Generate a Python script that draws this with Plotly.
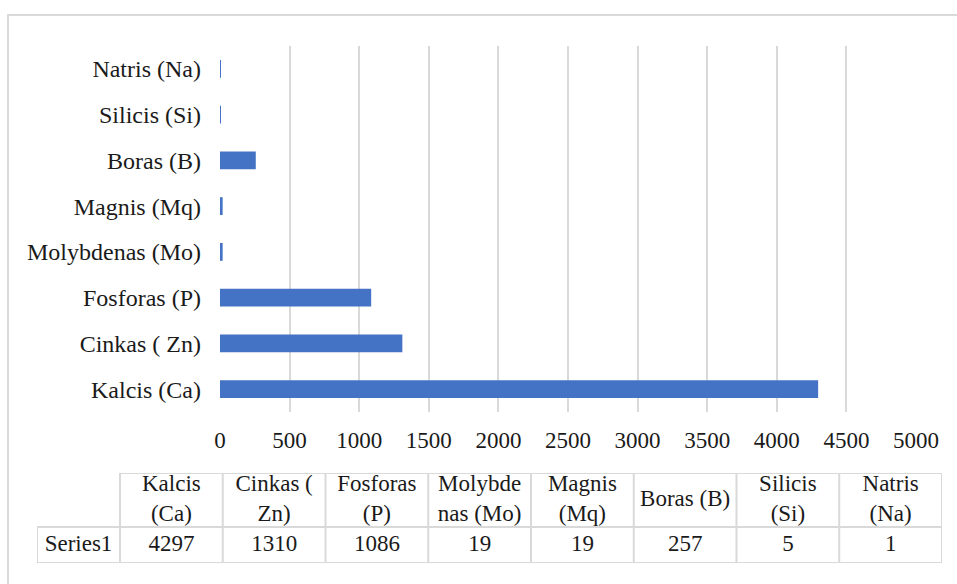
import plotly.graph_objects as go

# Element content (bottom to top on the bar chart, left to right in the table)
categories = ["Kalcis (Ca)", "Cinkas ( Zn)", "Fosforas (P)", "Molybdenas (Mo)",
              "Magnis (Mq)", "Boras (B)", "Silicis (Si)", "Natris (Na)"]
values = [4297, 1310, 1086, 19, 19, 257, 5, 1]
table_headers = ["Kalcis<br>(Ca)", "Cinkas (<br>Zn)", "Fosforas<br>(P)", "Molybde<br>nas (Mo)",
                 "Magnis<br>(Mq)", "Boras (B)", "Silicis<br>(Si)", "Natris<br>(Na)"]
series_name = "Series1"
x_ticks = [0, 500, 1000, 1500, 2000, 2500, 3000, 3500, 4000, 4500, 5000]

W, H = 957, 584
FONT = dict(family="Liberation Serif", size=23, color="#1a1a1a")
CAT_FONT = dict(family="Liberation Serif", size=24, color="#1a1a1a")
GRID = "#d9d9d9"
BAR = "#4472C4"


def px_x(p):
    return p / W


def px_y(p):
    return 1 - p / H


fig = go.Figure()

fig.add_trace(go.Bar(
    x=values, y=categories, orientation="h",
    marker=dict(color=BAR, line=dict(width=0)),
    width=0.39, hoverinfo="skip", showlegend=False,
))

# Data table under the chart: label column is narrower than the data columns
label_w = 83 / 102.75
header_h = 54 / 36
n = len(categories)

fig.add_trace(go.Scatter(
    x=[i + 0.5 for i in range(n)], y=[1 + header_h / 2] * n,
    text=table_headers, mode="text", textfont=FONT,
    xaxis="x2", yaxis="y2", hoverinfo="skip", showlegend=False,
))
fig.add_trace(go.Scatter(
    x=[i + 0.5 for i in range(n)], y=[0.5] * n,
    text=[str(v) for v in values], mode="text", textfont=FONT,
    xaxis="x2", yaxis="y2", hoverinfo="skip", showlegend=False,
))
fig.add_trace(go.Scatter(
    x=[-label_w / 2], y=[0.5], text=[series_name], mode="text", textfont=FONT,
    xaxis="x2", yaxis="y2", hoverinfo="skip", showlegend=False,
))

shapes = []
tline = dict(color=GRID, width=2)
for y in (0, 1):
    shapes.append(dict(type="line", xref="x2", yref="y2", x0=-label_w, x1=n, y0=y, y1=y, line=tline))
shapes.append(dict(type="line", xref="x2", yref="y2", x0=0, x1=n, y0=1 + header_h, y1=1 + header_h, line=tline))
shapes.append(dict(type="line", xref="x2", yref="y2", x0=-label_w, x1=-label_w, y0=0, y1=1, line=tline))
for i in range(n + 1):
    shapes.append(dict(type="line", xref="x2", yref="y2", x0=i, x1=i, y0=0, y1=1 + header_h, line=tline))

# Chart frame (runs off the right and bottom edges)
shapes.append(dict(type="rect", xref="paper", yref="paper",
                   x0=px_x(8), x1=1.02, y0=-0.02, y1=px_y(15),
                   line=dict(color=GRID, width=2), layer="below"))

fig.update_layout(
    template="none",
    width=W, height=H,
    autosize=False,
    margin=dict(l=0, r=0, t=0, b=0, pad=0),
    paper_bgcolor="white", plot_bgcolor="white",
    font=FONT,
    showlegend=False,
    bargap=0.61,
    shapes=shapes,
    xaxis=dict(
        domain=[px_x(220), px_x(916)], range=[0, 5000],
        tickvals=x_ticks, ticktext=[str(t) for t in x_ticks],
        showgrid=True, gridcolor=GRID, gridwidth=2,
        zeroline=False, showline=False, ticks="", automargin=False,
        ticklabelstandoff=12, tickfont=FONT, fixedrange=True,
    ),
    yaxis=dict(
        domain=[px_y(412), px_y(46)],
        categoryorder="array", categoryarray=categories,
        showgrid=False, zeroline=False, showline=False, ticks="", automargin=False,
        ticklabelstandoff=18, tickfont=CAT_FONT, fixedrange=True,
    ),
    xaxis2=dict(domain=[px_x(37), px_x(942)], range=[-label_w, n],
                visible=False, fixedrange=True, anchor="y2", automargin=False),
    yaxis2=dict(domain=[px_y(563), px_y(473)], range=[0, 1 + header_h],
                visible=False, fixedrange=True, anchor="x2", automargin=False),
)

fig.write_html("out.html", config={"responsive": False, "displayModeBar": False})
